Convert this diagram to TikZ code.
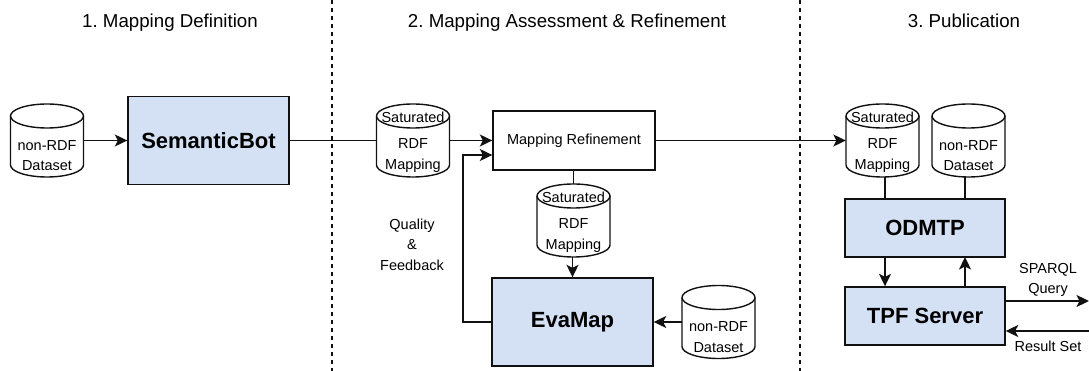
\documentclass[tikz,border=0pt]{standalone}
\usepackage{fontspec}
\setmainfont{Liberation Sans}
\usetikzlibrary{arrows.meta}
\frenchspacing
\definecolor{boxblue}{HTML}{D4E1F5}
\definecolor{ink}{HTML}{111111}
\tikzset{
  wire/.style={draw=ink,line width=1.4pt},
  flow/.style={wire,-{Stealth[length=12.5pt,width=12pt,inset=3pt]}},
  sep/.style={draw=ink,line width=1.1pt,dash pattern=on 4pt off 4pt},
  bigbox/.style={draw=ink,line width=1.4pt,fill=boxblue,inner sep=0pt,font=\fontsize{22}{26}\selectfont\bfseries},
  plainbox/.style={draw=ink,line width=1.4pt,fill=white,inner sep=0pt,font=\fontsize{14.5}{18}\selectfont},
  label/.style={align=center,inner sep=0pt,font=\fontsize{14.5}{20.5}\selectfont},
  title/.style={inner sep=0pt,anchor=base,font=\fontsize{18.7}{22}\selectfont},
  cylnode/.style={minimum width=73pt,minimum height=73pt,inner sep=0pt},
  cyltext/.style={inner sep=0pt,align=center,font=\fontsize{14.5}{20.5}\selectfont},
  cylline/.style={line width=1.4pt,draw=ink},
}
% name, x-centre, y-centre, first line, second line, third line
\newcommand{\cylshape}[6]{%
  \draw[cylline,fill=white]
    (#2-36.5,#3-24.5) arc[start angle=180,end angle=0,x radius=36.5pt,y radius=12pt]
    -- (#2+36.5,#3+24.5) arc[start angle=360,end angle=180,x radius=36.5pt,y radius=12pt] -- cycle;
  \draw[cylline] (#2-36.5,#3-24.5) arc[start angle=180,end angle=360,x radius=36.5pt,y radius=12pt];
  \node[cylnode] (#1) at (#2,#3) {};
  \node[cyltext] (#1t) at (#2,#3+2) {#4\\[5.5pt]#5\\#6};%
}
\begin{document}
\begin{tikzpicture}[x=1pt,y=-1pt]
\useasboundingbox (0,0) rectangle (1089,371);
\node[title] (t1) at (170,28) {1. Mapping Definition};
\node[title] (t2) at (567,28) {2. Mapping Assessment \& Refinement};
\node[title] (t3) at (964,28) {3. Publication};

\coordinate (d1a) at (332,0); \coordinate (d1b) at (332,371);
\coordinate (d2a) at (800,0); \coordinate (d2b) at (800,371);
\draw[sep] (d1a) -- (d1b);
\draw[sep] (d2a) -- (d2b);

\cylshape{src}{47}{140.5}{\phantom{Saturated}}{non-RDF}{Dataset}
\node[bigbox,minimum width=161pt,minimum height=88pt] (sb) at (208.5,140.5) {SemanticBot};
\cylshape{sat}{413}{140.5}{Saturated}{RDF}{Mapping}
\node[plainbox,minimum width=162pt,minimum height=59pt] (ref) at (574,140.5) {Mapping Refinement};
\cylshape{satb}{573.5}{220.5}{Saturated}{RDF}{Mapping}
\node[bigbox,minimum width=161pt,minimum height=88pt] (eva) at (572.5,322) {EvaMap};
\cylshape{srcb}{718.5}{322}{\phantom{Saturated}}{non-RDF}{Dataset}
\node[label] (qf) at (412,244.5) {Quality\\\&\\Feedback};

\cylshape{satc}{882.5}{140.5}{Saturated}{RDF}{Mapping}
\cylshape{srcc}{968.5}{140.5}{\phantom{Saturated}}{non-RDF}{Dataset}
\node[bigbox,minimum width=160pt,minimum height=58pt] (od) at (925,228) {ODMTP};
\node[bigbox,minimum width=160pt,minimum height=58pt] (tpf) at (925,316) {TPF Server};
\node[label] (sq) at (1048,280) {SPARQL\\Query};
\node[label] (rs) at (1048,346) {Result Set};

\coordinate (refin) at (ref.west |- 0,155);
\coordinate (bend) at (463,155);
\coordinate (oa) at (885,257);
\coordinate (ob) at (965,257);
\coordinate (qout) at (1089,301);
\coordinate (rin) at (1089,331);

\draw[flow] (src.east) -- (sb.west);
\draw[wire] (sb.east) -- (sat.west);
\draw[flow] (sat.east) -- (sat.east -| ref.west);
\draw[flow] (eva.west) -| (bend) -- (refin);
\draw[wire] (ref.south -| satb.north) -- (satb.north);
\draw[flow] (satb.south -| eva.north) -- (eva.north);
\draw[flow] (srcb.west) -- (eva.east);
\draw[flow] (ref.east) -- (satc.west);
\draw[wire] (satc.south -| oa) -- (od.north -| oa);
\draw[wire] (srcc.south -| ob) -- (od.north -| ob);
\draw[flow] (oa) -- (tpf.north -| oa);
\draw[flow] (tpf.north -| ob) -- (ob);
\draw[flow] (tpf.east |- qout) -- (qout);
\draw[flow] (rin) -- (tpf.east |- rin);
\end{tikzpicture}
\end{document}
